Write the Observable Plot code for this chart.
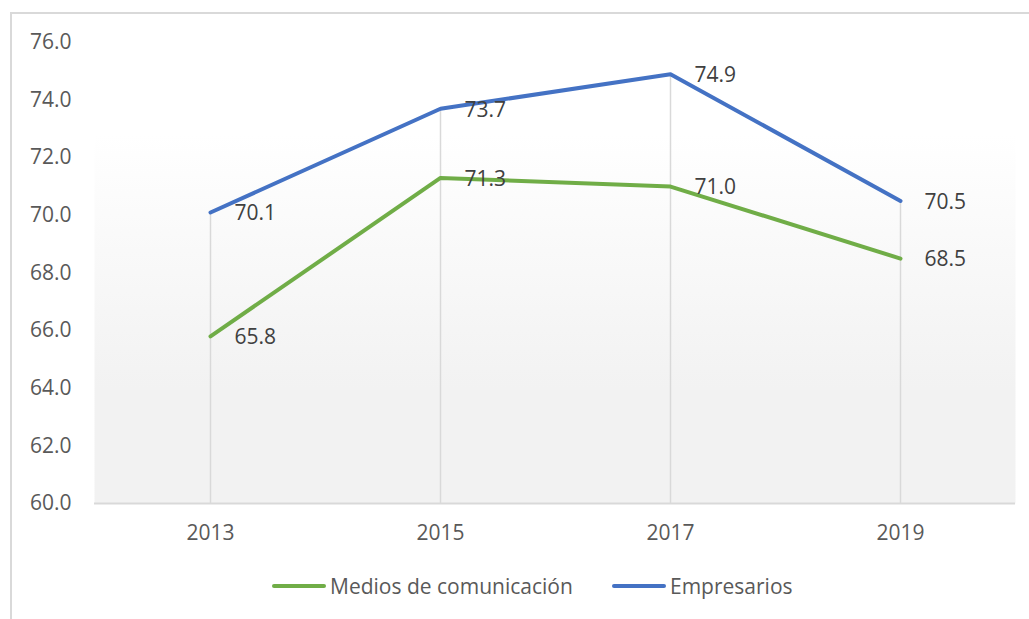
<!DOCTYPE html>
<html><head><meta charset="utf-8">
<script src="https://cdn.jsdelivr.net/npm/d3@7"></script>
<script src="https://cdn.jsdelivr.net/npm/@observablehq/plot@0.6"></script>
<style>
html,body{margin:0;padding:0;background:#fff;overflow:hidden;}
#wrap{position:relative;width:1029px;height:619px;}
#border{position:absolute;left:10px;top:12px;width:1040px;height:640px;border:2px solid #d9d9d9;box-sizing:border-box;}
#chart{position:absolute;left:0;top:0;}
#legend{position:absolute;left:0;top:572px;width:1029px;font-family:"Open Sans",sans-serif;font-size:21px;color:#595959;}
.item{position:absolute;top:0;display:flex;align-items:center;}
.sw{display:inline-block;width:54px;height:4px;border-radius:2px;margin-right:4px;}
</style></head>
<body><div id="wrap"><div id="border"></div><div id="chart"></div><div id="legend"></div></div>
<script>
const years = ["2013", "2015", "2017", "2019"];
const medios = [65.8, 71.3, 71.0, 68.5];
const empresarios = [70.1, 73.7, 74.9, 70.5];
const yTicks = [60, 62, 64, 66, 68, 70, 72, 74, 76];
const seriesNames = ["Medios de comunicación", "Empresarios"];
const seriesColors = ["#70ad47", "#4472c4"];

const rows = [];
years.forEach((y, i) => {
  rows.push({year: y, value: medios[i], series: seriesNames[0]});
  rows.push({year: y, value: empresarios[i], series: seriesNames[1]});
});
const drops = years.map((y, i) => ({year: y, top: Math.max(medios[i], empresarios[i])}));

const W = 1029, H = 560;
const plot = Plot.plot({
  width: W, height: H,
  marginLeft: 94, marginRight: 14, marginTop: 42, marginBottom: 57,
  style: {fontFamily: "'Open Sans', sans-serif", fontSize: "21px", color: "#595959", background: "transparent"},
  x: {type: "point", domain: years, padding: 0.5, label: null, tickSize: 0, tickPadding: 22},
  y: {domain: [60, 76], ticks: yTicks, tickFormat: d => d.toFixed(1), label: null, tickSize: 0, tickPadding: 23},
  color: {domain: seriesNames, range: seriesColors},
  marks: [
    Plot.frame({fill: "url(#plotbg)", stroke: null}),
    Plot.ruleX(drops, {x: "year", y1: 60, y2: "top", stroke: "#d9d9d9", strokeWidth: 1.5}),
    Plot.ruleY([60], {stroke: "#d9d9d9", strokeWidth: 2}),
    Plot.line(rows, {x: "year", y: "value", z: "series", stroke: "series", strokeWidth: 4, strokeLinejoin: "round"}),
    Plot.text(rows, {x: "year", y: "value", text: d => d.value.toFixed(1), textAnchor: "start", dx: 24, dy: 1, fill: "#404040", fontSize: 21})
  ]
});
const ns = "http://www.w3.org/2000/svg";
const defs = document.createElementNS(ns, "defs");
defs.innerHTML = '<linearGradient id="plotbg" x1="0" y1="0" x2="0" y2="1"><stop offset="0" stop-color="#ffffff"/><stop offset="0.2" stop-color="#ffffff"/><stop offset="0.75" stop-color="#f2f2f2"/><stop offset="1" stop-color="#f2f2f2"/></linearGradient>';
plot.insertBefore(defs, plot.firstChild);
document.getElementById("chart").appendChild(plot);

const leg = document.getElementById("legend");
const lx = [272, 612];
seriesNames.forEach((n, i) => {
  const it = document.createElement("div");
  it.className = "item";
  it.style.left = lx[i] + "px";
  it.innerHTML = `<span class="sw" style="background:${seriesColors[i]}"></span><span>${n}</span>`;
  leg.appendChild(it);
});
</script></body></html>
